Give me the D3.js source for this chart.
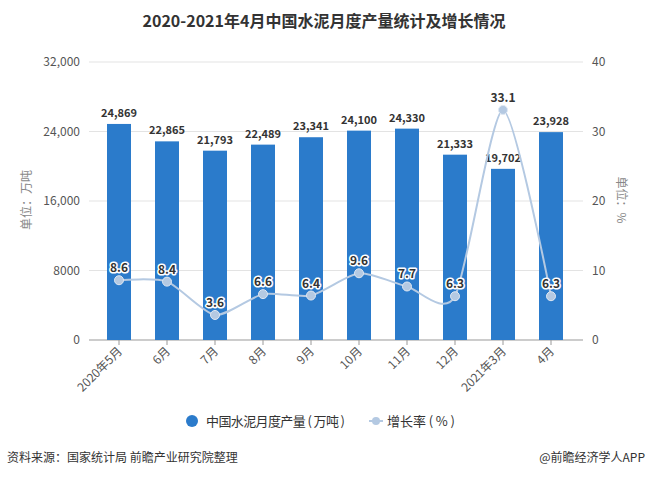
<!DOCTYPE html>
<html><head><meta charset="utf-8">
<script src="https://cdn.jsdelivr.net/npm/d3@7"></script>
<style>body{margin:0;background:#fff;} svg{display:block;font-family:"Microsoft YaHei","Noto Sans CJK SC",sans-serif;}</style>
</head><body>
<svg id="c" width="648" height="479"></svg>
<script>
const categories = ["2020年5月","6月","7月","8月","9月","10月","11月","12月","2021年3月","4月"];
const output = [24869,22865,21793,22489,23341,24100,24330,21333,19702,23928];
const growth = [8.6,8.4,3.6,6.6,6.4,9.6,7.7,6.3,33.1,6.3];
const leftTicks = [0,8000,16000,24000,32000];
const rightTicks = [0,10,20,30,40];

const svg = d3.select("#c");
const m = {l:95, r:575, t:62, b:340};
const x = d3.scaleBand().domain(categories).range([m.l, m.r]).paddingInner(0.5).paddingOuter(0.25);
const yL = d3.scaleLinear().domain([0,32000]).range([m.b, m.t]);
const yR = d3.scaleLinear().domain([0,40]).range([m.b, m.t]);

svg.append("text").attr("x",324).attr("y",27).attr("text-anchor","middle")
  .attr("font-size",16).attr("font-weight","bold").attr("fill","#333").text("2020-2021年4月中国水泥月度产量统计及增长情况");

// grid
svg.append("g").selectAll("line").data(leftTicks.slice(1)).join("line")
  .attr("x1",m.l-6).attr("x2",m.r+8).attr("y1",d=>yL(d)).attr("y2",d=>yL(d))
  .attr("stroke","#e3e3e3");
// left axis labels
svg.append("g").selectAll("text").data(leftTicks).join("text")
  .attr("x",80).attr("y",d=>yL(d)+4).attr("text-anchor","end").attr("font-size",12).attr("fill","#555")
  .text(d=>d===0||d===8000?d:d3.format(",")(d));
svg.append("g").selectAll("text").data(rightTicks).join("text")
  .attr("x",592).attr("y",d=>yR(d)+4).attr("text-anchor","start").attr("font-size",12).attr("fill","#555")
  .text(d=>d);
// axis line
svg.append("line").attr("x1",m.l-6).attr("x2",m.r+8).attr("y1",m.b).attr("y2",m.b).attr("stroke","#999");
svg.append("g").selectAll("line").data(categories).join("line")
  .attr("x1",d=>x(d)+x.bandwidth()/2).attr("x2",d=>x(d)+x.bandwidth()/2).attr("y1",m.b).attr("y2",m.b+5).attr("stroke","#999");
svg.append("g").selectAll("text").data(categories).join("text")
  .attr("transform",d=>`translate(${x(d)+x.bandwidth()/2+4},${m.b+12}) rotate(-45)`)
  .attr("text-anchor","end").attr("font-size",12).attr("fill","#555").text(d=>d);

// axis titles
svg.append("text").attr("transform","translate(31,200) rotate(-90)").attr("text-anchor","middle")
  .attr("font-size",12).attr("fill","#888").text("单位：万吨");
svg.append("text").attr("transform","translate(617,200) rotate(90)").attr("text-anchor","middle")
  .attr("font-size",12).attr("fill","#888").text("单位：%");

// bars
svg.append("g").selectAll("rect").data(output).join("rect")
  .attr("x",(d,i)=>x(categories[i])).attr("width",x.bandwidth())
  .attr("y",d=>yL(d)).attr("height",d=>m.b-yL(d)).attr("fill","#2b7bcb");
svg.append("g").selectAll("text").data(output).join("text")
  .attr("x",(d,i)=>x(categories[i])+x.bandwidth()/2).attr("y",d=>yL(d)-7)
  .attr("text-anchor","middle").attr("font-size",11).attr("font-weight","bold").attr("fill","#333")
  .text(d=>d3.format(",")(d));

// line
const cx = i=>x(categories[i])+x.bandwidth()/2;
const line = d3.line().x((d,i)=>cx(i)).y(d=>yR(d)).curve(d3.curveCardinal.tension(0.3));
svg.append("path").datum(growth).attr("d",line).attr("fill","none").attr("stroke","#b4c9e2").attr("stroke-width",2);
svg.append("g").selectAll("circle").data(growth).join("circle")
  .attr("cx",(d,i)=>cx(i)).attr("cy",d=>yR(d)).attr("r",4.5).attr("fill","#b4c9e2").attr("stroke","#dfe8f3").attr("stroke-width",1);
svg.append("g").selectAll("text").data(growth).join("text")
  .attr("x",(d,i)=>cx(i)).attr("y",d=>yR(d)-8)
  .attr("text-anchor","middle").attr("font-size",12).attr("font-weight","bold")
  .attr("fill","#333").attr("stroke","#fff").attr("stroke-width",3).attr("stroke-linejoin","round").attr("paint-order","stroke")
  .text(d=>d);

// legend
svg.append("circle").attr("cx",192).attr("cy",421).attr("r",6).attr("fill","#2b7bcb");
svg.append("text").attr("x",206).attr("y",426).attr("font-size",13).attr("fill","#333")
  .attr("textLength",139).attr("lengthAdjust","spacing").text("中国水泥月度产量 ( 万吨 )");
svg.append("line").attr("x1",369).attr("x2",383).attr("y1",421).attr("y2",421).attr("stroke","#b4c9e2").attr("stroke-width",2);
svg.append("circle").attr("cx",376).attr("cy",421).attr("r",4).attr("fill","#b4c9e2");
svg.append("text").attr("x",387).attr("y",426).attr("font-size",13).attr("fill","#333")
  .attr("textLength",68).attr("lengthAdjust","spacing").text("增长率 ( % )");

// footer
svg.append("text").attr("x",7).attr("y",462).attr("font-size",12).attr("fill","#333").text("资料来源：国家统计局 前瞻产业研究院整理");
svg.append("text").attr("x",645).attr("y",462).attr("text-anchor","end").attr("font-size",12).attr("fill","#333").text("@前瞻经济学人APP");
</script>
</body></html>
